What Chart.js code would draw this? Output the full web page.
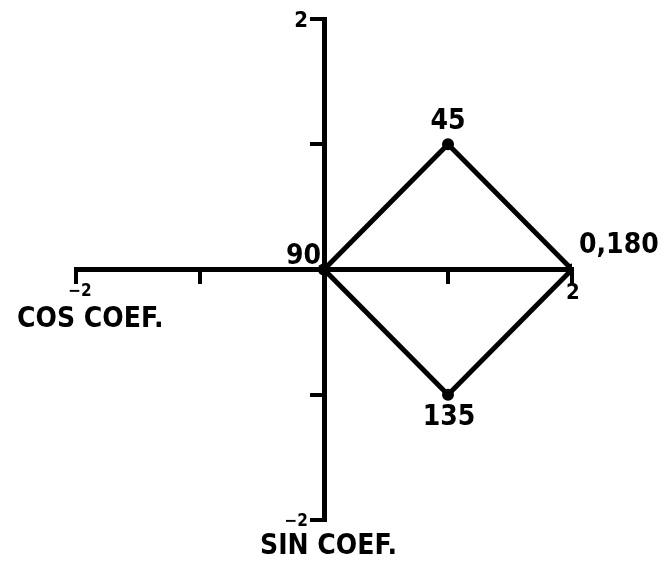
<!DOCTYPE html>
<html>
<head>
<meta charset="utf-8">
<script src="https://cdn.jsdelivr.net/npm/chart.js@4.4.1/dist/chart.umd.min.js"></script>
<style>
  html, body { margin: 0; padding: 0; background: #fff; }
  #wrap { width: 666px; height: 563px; }
</style>
</head>
<body>
<div id="wrap"><canvas id="coefChart"></canvas></div>
<script>
// phase angles and their cos / sin coefficients, closed back to the origin
const angleLabels = ['90', '45', '0,180', '135'];
const cosCoef = [0, 1, 2, 1, 0];
const sinCoef = [0, 1, 0, -1, 0];
const tickValues = [-2, -1, 0, 1, 2];
const labelledTicks = [-2, 2];

const FONT = '"DejaVu Sans Condensed", "DejaVu Sans", sans-serif';

// where each angle label sits relative to its point
const labelPlacement = [
  { align: 'right', base: 'bottom', dx: -3, dy: 1 },
  { align: 'center', base: 'bottom', dx: 0, dy: -9 },
  { align: 'left', base: 'bottom', dx: 7, dy: -10 },
  { align: 'center', base: 'top', dx: 1, dy: 9 }
];

const tickText = (v) => (v < 0 ? '\u2212' + Math.abs(v) : String(v));

const labelsPlugin = {
  id: 'coefLabels',
  afterDatasetsDraw(chart) {
    const { ctx, scales } = chart;
    const x = scales.x, y = scales.y;
    const x0 = x.getPixelForValue(0), y0 = y.getPixelForValue(0);
    ctx.save();
    ctx.fillStyle = '#000';

    // end-of-axis tick labels, negatives set smaller
    labelledTicks.forEach(v => {
      ctx.font = 'bold ' + (v < 0 ? 17 : 22) + 'px ' + FONT;
      ctx.textAlign = 'center';
      ctx.textBaseline = 'top';
      ctx.fillText(tickText(v), x.getPixelForValue(v) + (v < 0 ? 4 : 1), y0 + (v < 0 ? 14 : 13));
      ctx.textAlign = 'right';
      ctx.textBaseline = 'middle';
      ctx.fillText(tickText(v), x0 - 16, y.getPixelForValue(v) + 2);
    });

    ctx.font = 'bold 28px ' + FONT;
    angleLabels.forEach((txt, i) => {
      const p = labelPlacement[i];
      ctx.textAlign = p.align;
      ctx.textBaseline = p.base;
      ctx.fillText(txt, x.getPixelForValue(cosCoef[i]) + p.dx, y.getPixelForValue(sinCoef[i]) + p.dy);
    });

    // axis names
    ctx.textAlign = 'left';
    ctx.textBaseline = 'alphabetic';
    ctx.fillText('COS COEF.', x.getPixelForValue(-2) - 59, y0 + 57);
    ctx.fillText('SIN COEF.', x0 - 64, y.getPixelForValue(-2) + 34);
    ctx.restore();
  }
};

const axisCommon = {
  type: 'linear',
  min: -2,
  max: 2,
  border: { display: true, color: '#000', width: 5 },
  grid: { drawOnChartArea: false, color: '#000', lineWidth: 4, tickLength: 12 },
  ticks: { display: false },
  afterBuildTicks: (scale) => { scale.ticks = tickValues.map(v => ({ value: v })); }
};

new Chart(document.getElementById('coefChart'), {
  type: 'scatter',
  data: {
    datasets: [{
      data: cosCoef.map((c, i) => ({ x: c, y: sinCoef[i] })),
      showLine: true,
      borderColor: '#000',
      borderWidth: 5,
      pointRadius: 6,
      pointBackgroundColor: '#000',
      pointBorderWidth: 0
    }]
  },
  options: {
    responsive: true,
    maintainAspectRatio: false,
    animation: false,
    layout: { padding: { left: 76, right: 94, top: 19, bottom: 43 } },
    plugins: { legend: { display: false }, tooltip: { enabled: false } },
    scales: {
      x: { ...axisCommon, position: { y: 0 } },
      y: { ...axisCommon, position: { x: 0 } }
    }
  },
  plugins: [labelsPlugin]
});
</script>
</body>
</html>
